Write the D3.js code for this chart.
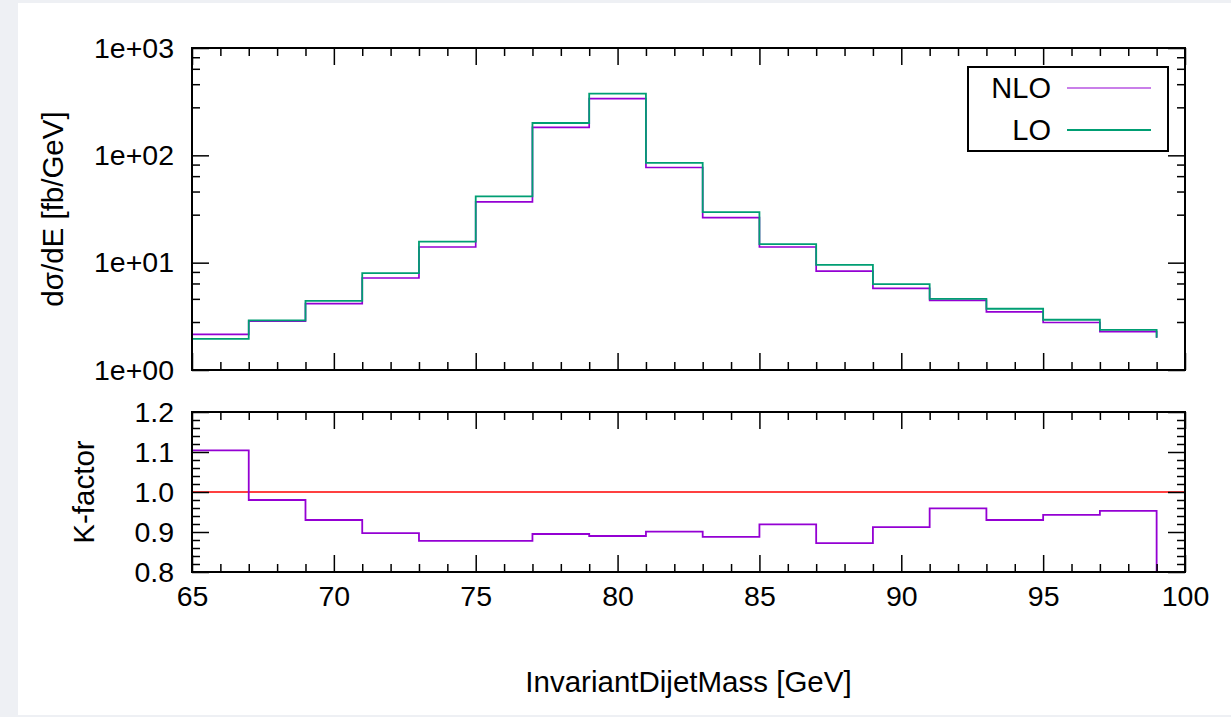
<!DOCTYPE html>
<html>
<head>
<meta charset="utf-8">
<script src="https://cdn.jsdelivr.net/npm/d3@7"></script>
<style>
  body { margin: 0; background: #eef0f4; }
  svg { display: block; }
  text { font-family: "Liberation Sans", Arial, sans-serif; fill: #000; }
  .tick text { font-size: 28.5px; }
</style>
</head>
<body>
<svg id="chart" width="1231" height="717"></svg>
<script>
// bin lower edges (GeV), bin width 2
const binLow = [65, 67, 69, 71, 73, 75, 77, 79, 81, 83, 85, 87, 89, 91, 93, 95, 97];
const binEnd = 99;

// dσ/dE [fb/GeV]
const nlo = [2.15, 2.85, 4.15, 7.2, 14.0, 36.8, 182, 337, 77, 26.3, 14.0, 8.35, 5.75, 4.45, 3.48, 2.77, 2.28];
const lo  = [1.95, 2.9, 4.4, 8.0, 15.7, 41.4, 200, 376, 85, 29.6, 14.9, 9.55, 6.3, 4.6, 3.72, 2.94, 2.36];
const tailTop = 2.0;

// K-factor = NLO / LO
const kfac = [1.104, 0.98, 0.93, 0.897, 0.878, 0.878, 0.895, 0.89, 0.901, 0.888, 0.919, 0.872, 0.912, 0.959, 0.93, 0.943, 0.953];
const tailK = 0;

const topTicks = [1, 10, 100, 1000];
const topMinorMant = [2.8, 4.6, 6.4, 8.2];
const kTicks = [0.8, 0.9, 1.0, 1.1, 1.2];
const xTicks = [65, 70, 75, 80, 85, 90, 95, 100];

const svg = d3.select("#chart");
svg.append("rect").attr("x", 18).attr("y", 3).attr("width", 1213).attr("height", 712).attr("fill", "#fff");

const L = 192, R = 1185;
const top1 = 48, bot1 = 370, top2 = 412, bot2 = 572;
const MAJ = 17, MIN = 8;

const x = d3.scaleLinear().domain([65, 100]).range([L, R]);
const yTop = d3.scaleLog().domain([1, 1000]).range([bot1, top1]);
const yK = d3.scaleLinear().domain([0.8, 1.2]).range([bot2, top2]);

const xMinor = d3.range(65, 101).filter(v => v % 5 !== 0);
const yTopMinor = [];
[1, 10, 100].forEach(d => topMinorMant.forEach(m => yTopMinor.push(d * m)));
const kMinor = d3.range(0, 21).map(i => 0.8 + i * 0.02).filter((v, i) => i % 5 !== 0);

function axisGroup(axis, tx, ty, labels) {
  const g = svg.append("g").attr("transform", `translate(${tx},${ty})`).call(axis);
  g.select(".domain").remove();
  g.selectAll(".tick line").attr("stroke", "#000").attr("stroke-width", 1.5);
  if (!labels) g.selectAll(".tick text").remove();
  return g;
}

function frameAxes(y, yT, yB, majorY, minorY, fmt, xLabels) {
  // x ticks, bottom and top
  axisGroup(d3.axisBottom(x).tickValues(xTicks).tickSize(-MAJ).tickPadding(14).tickFormat(d3.format("d")), 0, yB, xLabels);
  axisGroup(d3.axisBottom(x).tickValues(xMinor).tickSize(-MIN), 0, yB, false);
  axisGroup(d3.axisTop(x).tickValues(xTicks).tickSize(-MAJ), 0, yT, false);
  axisGroup(d3.axisTop(x).tickValues(xMinor).tickSize(-MIN), 0, yT, false);
  // y ticks, left and right
  axisGroup(d3.axisLeft(y).tickValues(majorY).tickSize(-MAJ).tickPadding(18).tickFormat(fmt), L, 0, true);
  axisGroup(d3.axisLeft(y).tickValues(minorY).tickSize(-MIN), L, 0, false);
  axisGroup(d3.axisRight(y).tickValues(majorY).tickSize(-MAJ), R, 0, false);
  axisGroup(d3.axisRight(y).tickValues(minorY).tickSize(-MIN), R, 0, false);
  svg.append("rect").attr("x", L).attr("y", yT).attr("width", R - L).attr("height", yB - yT)
    .attr("fill", "none").attr("stroke", "#000").attr("stroke-width", 2);
}

function stepPoints(vals, tail) {
  const pts = binLow.map((b, i) => [b, vals[i]]);
  pts.push([binEnd, tail]);
  return pts;
}

// ---- upper panel ----
svg.append("clipPath").attr("id", "clipTop").append("rect")
  .attr("x", L).attr("y", top1).attr("width", R - L).attr("height", bot1 - top1);
const lineTop = d3.line().x(d => x(d[0])).y(d => yTop(d[1])).curve(d3.curveStepAfter);

svg.append("path").attr("d", lineTop(stepPoints(nlo, tailTop)))
  .attr("fill", "none").attr("stroke", "#9400d3").attr("stroke-width", 1.7).attr("clip-path", "url(#clipTop)");
svg.append("path").attr("d", lineTop(stepPoints(lo, tailTop)))
  .attr("fill", "none").attr("stroke", "#009e73").attr("stroke-width", 1.8).attr("clip-path", "url(#clipTop)");

frameAxes(yTop, top1, bot1, topTicks, yTopMinor,
  d => "1e+" + String(Math.round(Math.log10(d))).padStart(2, "0"), false);

svg.append("text").attr("transform", `translate(63,${(top1 + bot1) / 2}) rotate(-90)`)
  .attr("text-anchor", "middle").attr("font-size", 29.5).text("dσ/dE [fb/GeV]");

// legend
const leg = svg.append("g");
leg.append("rect").attr("x", 968).attr("y", 67).attr("width", 200).attr("height", 84)
  .attr("fill", "#fff").attr("stroke", "#000").attr("stroke-width", 2);
[["NLO", "#9400d3", 1.2, 88], ["LO", "#009e73", 2, 130]].forEach(([name, col, w, cy]) => {
  leg.append("text").attr("x", 1051).attr("y", cy).attr("dy", "0.36em")
    .attr("text-anchor", "end").attr("font-size", 29).text(name);
  leg.append("line").attr("x1", 1067).attr("x2", 1151).attr("y1", cy).attr("y2", cy)
    .attr("stroke", col).attr("stroke-width", w);
});

// ---- lower panel ----
svg.append("clipPath").attr("id", "clipK").append("rect")
  .attr("x", L).attr("y", top2).attr("width", R - L).attr("height", bot2 - top2);

svg.append("line").attr("x1", x(65)).attr("x2", x(100)).attr("y1", yK(1)).attr("y2", yK(1))
  .attr("stroke", "#ff0000").attr("stroke-width", 1.5);

const lineK = d3.line().x(d => x(d[0])).y(d => yK(d[1])).curve(d3.curveStepAfter);
svg.append("path").attr("d", lineK(stepPoints(kfac, tailK)))
  .attr("fill", "none").attr("stroke", "#9400d3").attr("stroke-width", 1.8).attr("clip-path", "url(#clipK)");

frameAxes(yK, top2, bot2, kTicks, kMinor, d3.format(".1f"), true);

svg.append("text").attr("transform", `translate(94,${(top2 + bot2) / 2}) rotate(-90)`)
  .attr("text-anchor", "middle").attr("font-size", 29.5).text("K-factor");

svg.append("text").attr("x", (L + R) / 2).attr("y", 692)
  .attr("text-anchor", "middle").attr("font-size", 29.5).text("InvariantDijetMass [GeV]");
</script>
</body>
</html>
